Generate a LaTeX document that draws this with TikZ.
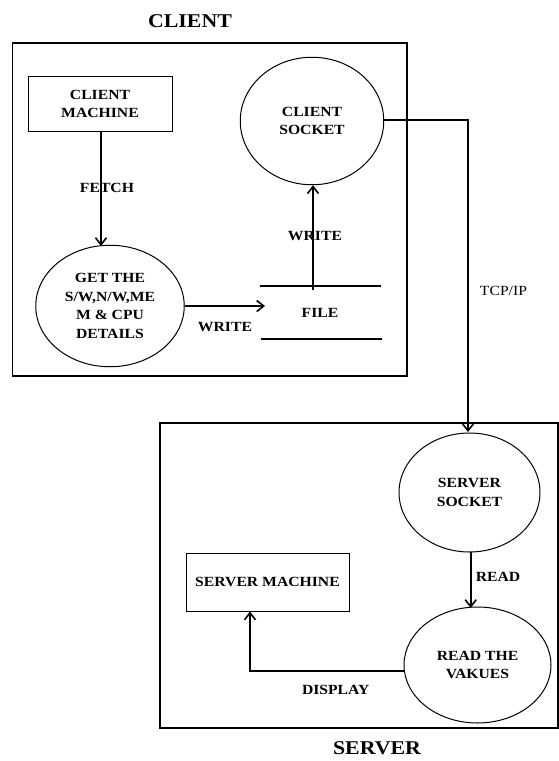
\documentclass[tikz,border=0pt]{standalone}
\usepackage{fontspec}
\setmainfont[FakeStretch=1.12]{Liberation Serif}
\usetikzlibrary{arrows.meta,shapes.geometric}
\begin{document}
\begin{tikzpicture}[x=1pt,y=-1pt,
  txt/.style={font=\fontsize{14}{18.5}\selectfont\bfseries,align=center,inner sep=0pt},
  title/.style={font=\fontsize{19.5}{24}\selectfont\bfseries,inner sep=0pt},
  frame/.style={draw,line width=1.2pt},
  proc/.style={draw,ellipse,line width=1pt,inner sep=0pt,txt},
  ent/.style={draw,rectangle,line width=1pt,inner sep=0pt,txt},
  flow/.style={line width=1.6pt,-{Straight Barb[length=7pt,width=11pt,line width=1.6pt]}},
  lbl/.style={txt}]
\useasboundingbox (0,0) rectangle (559,761);
% titles
\node[title] (tc) at (190,21.5) {CLIENT};
\node[title] (ts) at (377,748) {SERVER};
% frames
\draw[frame] (12.5,43) rectangle (407,376);
\draw[frame] (160,423) rectangle (558,728);
% client nodes
\node[ent,minimum width=144pt,minimum height=55.5pt] (cm) at (100,104) {CLIENT\\MACHINE};
\node[proc,minimum width=143.5pt,minimum height=127.5pt] (cs) at (312,121) {CLIENT\\SOCKET};
\node[proc,minimum width=148.5pt,minimum height=121.5pt] (ge) at (110,306) {GET THE\\S/W,N/W,ME\\M \& CPU\\DETAILS};
\node[txt] (file) at (320,313) {FILE};
\draw[line width=1.2pt] (260,286) -- (381,286);
\draw[line width=1.2pt] (261,339) -- (382,339);
\coordinate (fin) at (265,306);
\coordinate (fout) at (313,290);
\coordinate (fa) at (101,131.75);
\coordinate (fb) at (101,246);
\coordinate (wa) at (184.5,306);
% client arrows
\draw[flow] (fa) -- (fb);
\draw[flow] (wa) -- (fin);
\draw[flow] (fout) -- (fout |- cs.south);
\node[lbl] (lfetch) at (107,188) {FETCH};
\node[lbl] (lw1) at (225,327) {WRITE};
\node[lbl] (lw2) at (315,236) {WRITE};
% server nodes
\node[proc,minimum width=141pt,minimum height=119pt] (ss) at (469.5,492.5) {SERVER\\SOCKET};
\node[proc,minimum width=147pt,minimum height=116pt] (rv) at (477.5,665) {READ THE\\VAKUES};
\node[ent,minimum width=163pt,minimum height=58pt] (sm) at (267.5,582) {SERVER MACHINE};
% connectors
\coordinate (tcpc) at (468,120);
\coordinate (tcpe) at (468,432);
\draw[flow] (cs.east |- tcpc) -- (tcpc) -- (tcpe);
\node[txt,font=\fontsize{14}{18}\selectfont] (ltcp) at (503.5,291) {TCP/IP};
\coordinate (ra) at (470.7,552);
\coordinate (rb) at (470.7,608);
\draw[flow] (ra) -- (rb);
\node[lbl] (lread) at (498,577) {READ};
\coordinate (dc) at (250,671);
\coordinate (da) at (404,671);
\draw[flow] (da) -- (dc) -- (dc |- sm.south);
\node[lbl] (ldisp) at (335.7,690) {DISPLAY};
\end{tikzpicture}
\end{document}
